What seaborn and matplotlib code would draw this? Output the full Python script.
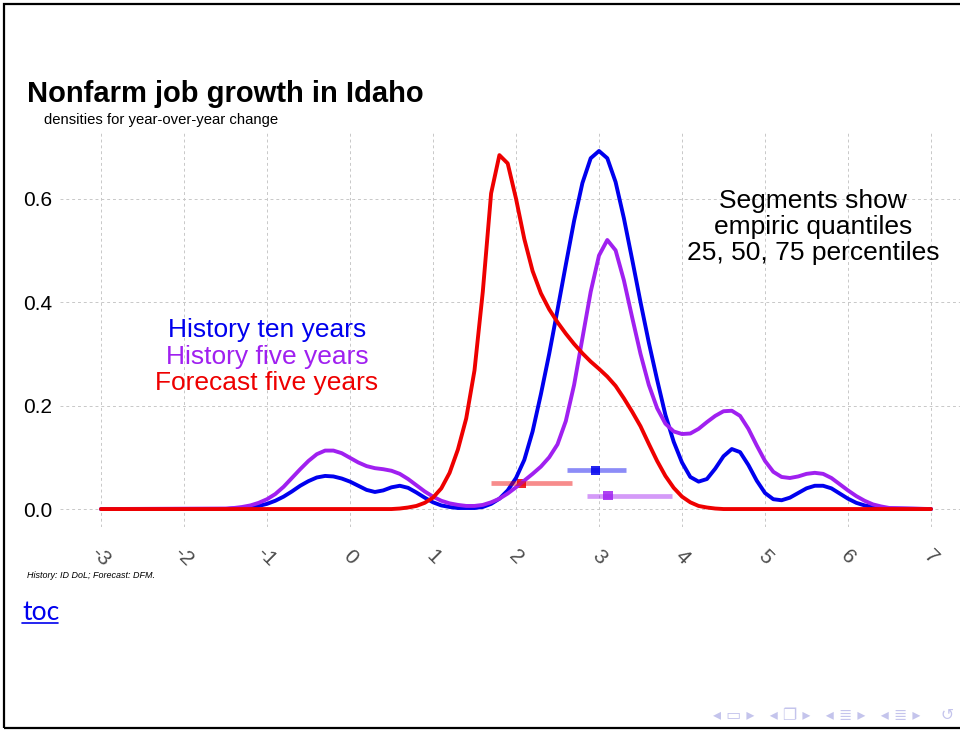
import numpy as np
import pandas as pd
import seaborn as sns
import matplotlib.pyplot as plt
from matplotlib.patches import Rectangle

# density values (x grid from -1.5 to 6.5, step 0.1; flat zero outside)
x_grid = [round(-1.5 + 0.1 * i, 1) for i in range(81)]

ten_years = [0.000, 0.001, 0.002, 0.004, 0.006, 0.010, 0.016, 0.024, 0.034, 0.045,
             0.054, 0.061, 0.064, 0.063, 0.059, 0.053, 0.045, 0.037, 0.033, 0.036,
             0.042, 0.045, 0.041, 0.032, 0.022, 0.013, 0.007, 0.004, 0.002, 0.002,
             0.002, 0.004, 0.010, 0.020, 0.036, 0.060, 0.095, 0.150, 0.222, 0.300,
             0.385, 0.472, 0.557, 0.630, 0.678, 0.692, 0.678, 0.632, 0.562, 0.482,
             0.400, 0.322, 0.250, 0.182, 0.130, 0.090, 0.062, 0.053, 0.058, 0.078,
             0.102, 0.116, 0.110, 0.085, 0.055, 0.031, 0.019, 0.017, 0.022, 0.031,
             0.040, 0.045, 0.045, 0.040, 0.030, 0.020, 0.012, 0.007, 0.004, 0.002,
             0.001]

five_years = [0.001, 0.002, 0.004, 0.007, 0.012, 0.019, 0.029, 0.043, 0.060, 0.077,
              0.093, 0.106, 0.113, 0.113, 0.108, 0.099, 0.090, 0.083, 0.079, 0.077,
              0.074, 0.068, 0.058, 0.046, 0.034, 0.024, 0.016, 0.011, 0.008, 0.006,
              0.006, 0.008, 0.013, 0.020, 0.030, 0.042, 0.055, 0.068, 0.082, 0.100,
              0.125, 0.170, 0.240, 0.330, 0.420, 0.490, 0.520, 0.500, 0.442, 0.370,
              0.300, 0.240, 0.195, 0.165, 0.150, 0.145, 0.146, 0.155, 0.168, 0.180,
              0.189, 0.190, 0.180, 0.155, 0.123, 0.093, 0.072, 0.062, 0.060, 0.063,
              0.068, 0.070, 0.068, 0.060, 0.048, 0.036, 0.025, 0.016, 0.009, 0.005,
              0.002]

forecast = [0.000, 0.000, 0.000, 0.000, 0.000, 0.000, 0.000, 0.000, 0.000, 0.000,
            0.000, 0.000, 0.000, 0.000, 0.000, 0.000, 0.000, 0.000, 0.000, 0.000,
            0.000, 0.001, 0.003, 0.006, 0.012, 0.022, 0.040, 0.070, 0.115, 0.175,
            0.268, 0.420, 0.610, 0.684, 0.668, 0.600, 0.522, 0.460, 0.417, 0.386,
            0.361, 0.339, 0.319, 0.301, 0.285, 0.271, 0.256, 0.238, 0.214, 0.188,
            0.160, 0.126, 0.093, 0.064, 0.041, 0.024, 0.013, 0.006, 0.003, 0.001,
            0.000, 0.000, 0.000, 0.000, 0.000, 0.000, 0.000, 0.000, 0.000, 0.000,
            0.000, 0.000, 0.000, 0.000, 0.000, 0.000, 0.000, 0.000, 0.000, 0.000,
            0.000]

series_names = ["History ten years", "History five years", "Forecast five years"]
colors = ["#0000EE", "#A020F0", "#EE0000"]

# quantile segments: 25th, 50th, 75th percentile and the height they sit at
q25 = [2.61, 2.86, 1.70]
q50 = [2.96, 3.11, 2.07]
q75 = [3.33, 3.88, 2.68]
seg_y = [0.075, 0.026, 0.050]

x_ticks = list(range(-3, 8))
y_ticks = [0.0, 0.2, 0.4, 0.6]

rows = []
for name, vals in zip(series_names, [ten_years, five_years, forecast]):
    xs = [-3.0] + x_grid + [7.0]
    ys = [0.0] + vals + [0.0]
    rows.append(pd.DataFrame({"x": xs, "density": ys, "series": name}))
df = pd.concat(rows, ignore_index=True)

sns.set_theme(style="white")
plt.rcParams["font.family"] = ["Liberation Sans", "DejaVu Sans"]
plt.rcParams["text.color"] = "black"

fig = plt.figure(figsize=(9.6, 7.3), dpi=100)
ax = fig.add_axes([59.5 / 960, 1 - 527 / 730, 913 / 960, 395 / 730])

ax.grid(True, color="#c8c8c8", linestyle=(0, (3, 3)), linewidth=0.7)
ax.set_axisbelow(True)

sns.lineplot(data=df, x="x", y="density", hue="series", palette=colors,
             hue_order=series_names, linewidth=2.8, sort=False, legend=False,
             solid_joinstyle="round", solid_capstyle="round", ax=ax)

seg = pd.DataFrame({"series": series_names, "q25": q25, "q50": q50,
                    "q75": q75, "y": seg_y})
for _, r in seg.iterrows():
    c = colors[series_names.index(r["series"])]
    ax.hlines(r["y"], r["q25"], r["q75"], color=c, alpha=0.45, linewidth=3.4)
sns.scatterplot(data=seg, x="q50", y="y", hue="series", palette=colors,
                hue_order=series_names, marker="s", s=45, linewidth=0,
                alpha=0.85, legend=False, ax=ax)

# label block in place of a legend
label_y = [0.346, 0.294, 0.243]
for name, c, yy in zip(series_names, colors, label_y):
    ax.text(-1.0, yy, name, color=c, fontsize=19, ha="center", va="center")

ax.text(5.58, 0.545, "Segments show\nempiric quantiles\n25, 50, 75 percentiles",
        fontsize=19, ha="center", va="center", linespacing=1.1, color="black")

ax.set_xlim(-3.5, 7.5)
ax.set_ylim(-0.0347, 0.7287)
ax.set_xticks(x_ticks)
ax.set_yticks(y_ticks)
ax.set_xticklabels([str(t) for t in x_ticks], rotation=-45, ha="center",
                   va="center", fontsize=15, color="#4d4d4d")
ax.set_yticklabels([f"{t:.1f}" for t in y_ticks], fontsize=15, color="black")
ax.tick_params(axis="x", length=4, width=0.6, color="#aaaaaa", pad=17.5)
ax.tick_params(axis="y", length=3, width=0.6, color="#aaaaaa", pad=2)
ax.set_xlabel("")
ax.set_ylabel("")
for s in ax.spines.values():
    s.set_visible(False)

fig.text(27 / 960, 1 - 102 / 730, "Nonfarm job growth in Idaho", fontsize=21,
         fontweight="bold", va="baseline", ha="left", color="black")
fig.text(44 / 960, 1 - 120 / 730, "densities for year-over-year change",
         fontsize=10.7, va="center", ha="left", color="black")
fig.text(27 / 960, 1 - 575 / 730, "History: ID DoL; Forecast: DFM.",
         fontsize=6.5, style="italic", va="center", ha="left", color="black")
fig.text(22 / 960, 1 - 612 / 730, "toc", fontsize=19, color="#0000EE",
         family=["Lato", "DejaVu Sans"], va="center", ha="left")
fig.add_artist(plt.Line2D([22 / 960, 58 / 960], [1 - 623 / 730, 1 - 623 / 730],
                          color="#0000EE", linewidth=1.2))

# beamer navigation symbols
fig.text(713 / 960, 1 - 715 / 730, "◂ ▭ ▸   ◂ ❐ ▸   ◂ ≣ ▸   ◂ ≣ ▸    ↺",
         fontsize=11.5, color="#c4c4ec", va="center", ha="left",
         family=["DejaVu Sans"])

# slide frame
fig.add_artist(Rectangle((4 / 960, 2 / 730), 1.2, 724 / 730, fill=False,
                         edgecolor="black", linewidth=1.6,
                         transform=fig.transFigure, clip_on=False))

fig.savefig("out.png", dpi=100)
